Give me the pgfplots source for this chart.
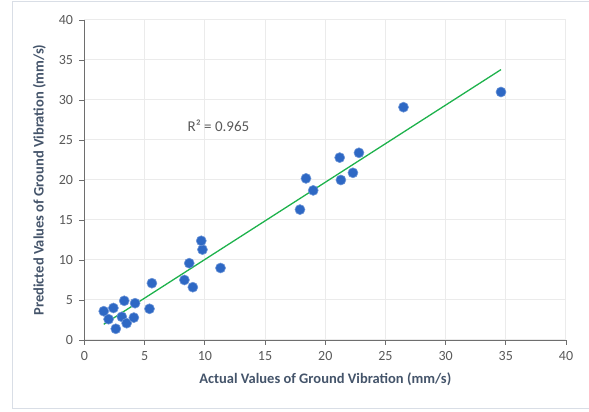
\documentclass[border=0pt]{standalone}
\usepackage{fontspec}
\setmainfont{Carlito}
\usepackage{pgfplots}
\pgfplotsset{compat=1.18}
\definecolor{ticktxt}{RGB}{89,89,89}
\definecolor{labtxt}{RGB}{68,84,106}
\definecolor{gridc}{RGB}{235,235,235}
\definecolor{axc}{RGB}{110,110,110}
\definecolor{mk}{RGB}{46,104,196}
\definecolor{mkedge}{RGB}{110,150,215}
\definecolor{trend}{RGB}{30,178,76}
\definecolor{framec}{RGB}{217,222,230}
\begin{document}
\begin{tikzpicture}
\useasboundingbox (-84.5pt,-72pt) rectangle (504.5pt,340pt);
\draw[framec, line width=1pt] (-71.5pt,-68.5pt) rectangle (510pt,338pt);
\begin{axis}[
  at={(0,0)}, anchor=south west,
  scale only axis, width=481.5pt, height=320pt,
  xmin=0, xmax=40, ymin=0, ymax=40,
  xtick={0,5,...,40}, ytick={0,5,...,40},
  axis x line*=bottom, axis y line*=left,
  axis line style={axc, line width=0.8pt, -},
  tick style={axc, line width=0.8pt},
  tick align=outside, major tick length=5pt,
  grid=major, major grid style={gridc, line width=1pt},
  ticklabel style={font=\fontsize{14}{16}\selectfont, text=ticktxt},
  /pgf/number format/assume math mode=true,
  xticklabel style={yshift=-3pt},
  yticklabel style={xshift=-3pt},
  xlabel={Actual Values of Ground Vibration (mm/s)},
  ylabel={Predicted Values of Ground Vibration (mm/s)},
  label style={font=\fontsize{14.5}{16}\selectfont\bfseries, text=labtxt},
  xlabel style={yshift=-5pt},
  ylabel style={yshift=6pt},
  clip=false,
]
\addplot[only marks, mark=*, mark size=5pt, mark options={fill=mk, draw=mkedge, line width=0.6pt}] coordinates {
(1.6,3.6) (2.0,2.6) (2.4,4.0) (2.6,1.4) (3.1,2.9) (3.3,4.9) (3.5,2.1)
(4.2,4.6) (4.1,2.8) (5.4,3.9) (5.6,7.1) (8.3,7.5) (8.7,9.6) (9.0,6.6)
(9.8,11.3) (9.7,12.4) (11.3,9.0) (17.9,16.3) (18.4,20.2) (19.0,18.7)
(21.2,22.8) (21.3,20.0) (22.3,20.9) (22.8,23.4) (26.5,29.1) (34.6,31.0)
};
\addplot[trend, line width=1.3pt] coordinates {(1.6,1.96) (34.6,33.8)};
\node[anchor=west, font=\fontsize{15}{17}\selectfont, text=ticktxt, inner sep=0pt] at (axis cs:8.55,26.8) {R² = 0.965};
\end{axis}
\end{tikzpicture}
\end{document}
